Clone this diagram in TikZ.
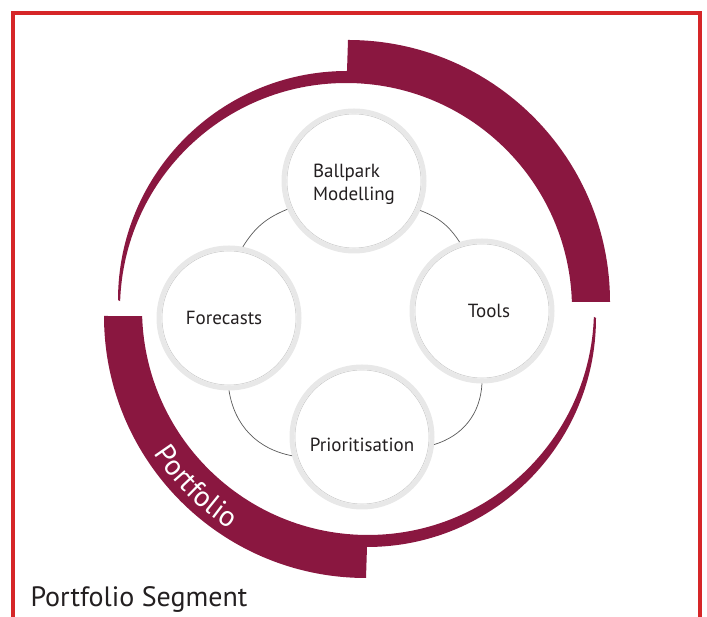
\documentclass[tikz,border=0pt]{standalone}
\usepackage{fontspec}
\setmainfont{PT Sans}
\usetikzlibrary{decorations.text}
\definecolor{wine}{RGB}{138,23,64}
\definecolor{framered}{RGB}{214,38,40}
\definecolor{ink}{RGB}{35,31,32}
\tikzstyle{stage} = [circle, fill=white, draw=black!9, line width=5pt, minimum size=140pt, inner sep=0pt, text=ink, font=\fontsize{19}{23}\selectfont, path picture={\draw[black!20, line width=0.6pt] (path picture bounding box.center) circle[radius=67pt];}]
\tikzstyle{link} = [draw=black!65, line width=0.7pt]
% one half of the swirl: thick quarter plus tapering quarter
\newcommand{\swirlhalf}{%
  \fill[wine] ([shift={(-9,7)}]90:262) arc[start angle=90, end angle=0, radius=262]
    -- ([shift={(-11,0)}]1.8:226) arc[start angle=1.8, end angle=178, radius=226]
    -- ([shift={(-10,9)}]180:229) arc[start angle=180, end angle=90, radius=229] -- cycle;}

\begin{document}
\begin{tikzpicture}[x=1pt, y=1pt]
            \useasboundingbox (0,0) rectangle (707,617);
            \draw [framered, line width=4pt] (13,-10) |- (699.5,604) -- (699.5,-10);

            \begin{scope}[shift={(357,308)}]
                \swirlhalf
                \begin{scope}[rotate=180]
                    \swirlhalf
                \end{scope}
                \path [decorate, decoration={text along path, text align=center,
                    text={|\color{white}\fontsize{29}{29}\selectfont|Portfolio}}]
                    ([shift={(9,-7)}]180:253) arc[start angle=180, end angle=270, radius=253];
            \end{scope}

            \node (bm) [stage] at (354,436) {\raisebox{-8pt}[0pt][0pt]{\begin{tabular}{@{}l@{}}Ballpark\\Modelling\end{tabular}}};
            \node (tl) [stage] at (482,306) {\hspace*{14pt}Tools};
            \node (fc) [stage] at (229,299) {Forecasts\hspace*{10pt}};
            \node (pr) [stage] at (362,180) {\raisebox{-15pt}[0pt][0pt]{Prioritisation}};

            \draw [link] (fc.79) to[bend left=18] (bm.203);
            \draw [link] (bm.336) to[bend left=18] (tl.108);
            \draw [link] (tl.270) to[bend left=35] (pr.354);
            \draw [link] (pr.195) to[bend left=35] (fc.270);

            \node (seg) [anchor=base west, text=ink, font=\fontsize{28}{32}\selectfont] at (27,10) {Portfolio Segment};
        \end{tikzpicture}
\end{document}
